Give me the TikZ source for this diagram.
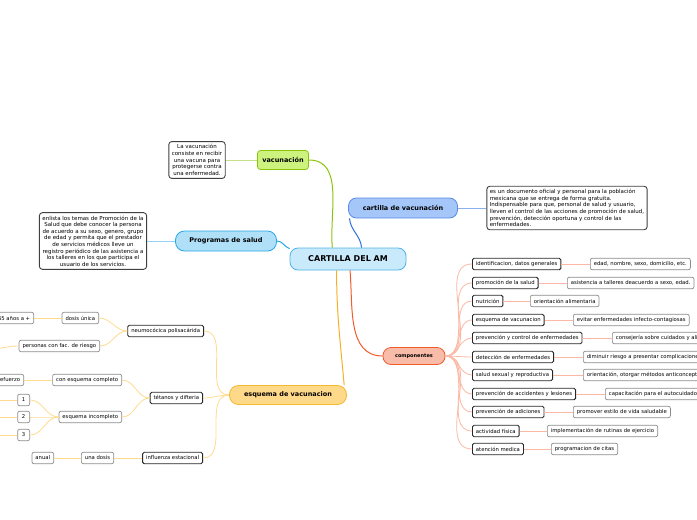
\documentclass[tikz,border=0pt]{standalone}
\usepackage{fontspec}
\setmainfont{DejaVu Sans}
\usetikzlibrary{positioning}

\definecolor{rootfill}{HTML}{C9EAFB}
\definecolor{rootline}{HTML}{4FB3E8}
\definecolor{vacfill}{HTML}{CDF27E}
\definecolor{vacline}{HTML}{8BC40B}
\definecolor{cvfill}{HTML}{A4C6F8}
\definecolor{cvline}{HTML}{2E6FE0}
\definecolor{progfill}{HTML}{B0E0F8}
\definecolor{progline}{HTML}{2AA8E6}
\definecolor{compfill}{HTML}{F9BCA9}
\definecolor{compline}{HTML}{F15A2B}
\definecolor{compsub}{HTML}{FBB9A5}
\definecolor{esqfill}{HTML}{FFD98A}
\definecolor{esqline}{HTML}{F5B82E}
\definecolor{esqsub}{HTML}{FFDB8E}

\tikzset{
  topic/.style = {draw, line width=0.8pt, font=\fontsize{6.5}{8}\selectfont\bfseries, inner sep=0pt},
  note/.style = {draw=black!75, rounded corners=3pt, line width=0.9pt, fill=white, font=\fontsize{5.5}{6.6}\selectfont, inner sep=3pt},
  item/.style = {draw=black!85, rounded corners=1.5pt, line width=0.9pt, fill=white, font=\fontsize{5.3}{6}\selectfont, minimum height=11.5pt, inner xsep=3.5pt, inner ysep=0pt},
  leaf/.style = {draw=black!45, rounded corners=2pt, line width=0.7pt, fill=white, font=\fontsize{5.3}{6}\selectfont, minimum height=11.5pt, inner xsep=3.5pt, inner ysep=0pt},
  csub/.style = {draw=compsub, line width=0.8pt},
  esub/.style = {draw=esqsub, line width=0.8pt}
}

\begin{document}
\begin{tikzpicture}[x=1pt, y=-1pt]
\useasboundingbox (0,0) rectangle (697,520);

% main topics
\node[topic, fill=rootfill, draw=rootline, rounded corners=8pt, minimum width=116pt, minimum height=22pt, font=\fontsize{8}{9}\selectfont\bfseries] (root) at (348,259) {CARTILLA DEL AM};
\node[topic, fill=vacfill, draw=vacline, rounded corners=3pt, minimum width=51pt, minimum height=19pt] (vac) at (283,160) {vacunación};
\node[topic, fill=cvfill, draw=cvline!80, rounded corners=8pt, minimum width=109pt, minimum height=20pt] (cv) at (403,208) {cartilla de vacunación};
\node[topic, fill=progfill, draw=progline, rounded corners=9pt, minimum width=101pt, minimum height=20pt] (prog) at (226,241) {Programas de salud};
\node[topic, fill=compfill, draw=compline, rounded corners=8pt, minimum width=62pt, minimum height=17pt, font=\fontsize{5}{6}\selectfont\bfseries] (comp) at (414,356) {componentes};
\node[topic, fill=esqfill, draw=esqline, rounded corners=9pt, minimum width=117pt, minimum height=19pt] (esq) at (288,395) {esquema de vacunacion};

% notes
\node[note, align=center] (vacnote) at (197,160) {La vacunación\\consiste en recibir\\una vacuna para\\protegerse contra\\una enfermedad.};
\node[note, align=left] (cvnote) at (567,208) {es un documento oficial y personal para la población\\mexicana que se entrega de forma gratuita.\\Indispensable para que, personal de salud y usuario,\\lleven el control de las acciones de promoción de salud,\\prevención, detección oportuna y control de las\\enfermedades.};
\node[note, align=center] (prognote) at (93,241) {enlista los temas de Promoción de la\\Salud que debe conocer la persona\\de acuerdo a su sexo, genero, grupo\\de edad y permita que el prestador\\de servicios médicos lleve un\\registro periódico de las asistencia a\\los talleres en los que participa el\\usuario de los servicios.};

% componentes
\node[item, anchor=west] (c1) at (472,264) {identificacion, datos generales};
\node[item, anchor=west] (c2) at (472,283) {promoción de la salud};
\node[item, anchor=west] (c3) at (472,301) {nutrición};
\node[item, anchor=west] (c4) at (472,320) {esquema de vacunacion};
\node[item, anchor=west] (c5) at (472,338) {prevención y control de enfermedades};
\node[item, anchor=west] (c6) at (472,357) {detección de enfermedades};
\node[item, anchor=west] (c7) at (472,375) {salud sexual y reproductiva};
\node[item, anchor=west] (c8) at (472,394) {prevención de accidentes y lesiones};
\node[item, anchor=west] (c9) at (472,412) {prevención de adiciones};
\node[item, anchor=west] (c10) at (472,431) {actividad física};
\node[item, anchor=west] (c11) at (472,449) {atención medica};

\node[leaf, anchor=west] (l1) at (590,264) {edad, nombre, sexo, domicilio, etc.};
\node[leaf, anchor=west] (l2) at (567,283) {asistencia a talleres deacuerdo a sexo, edad.};
\node[leaf, anchor=west] (l3) at (530,301) {orientación alimentaria};
\node[leaf, anchor=west] (l4) at (573,320) {evitar enfermedades infecto-contagiosas};
\node[leaf, anchor=west] (l5) at (612,338) {consejería sobre cuidados y alimentación};
\node[leaf, anchor=west] (l6) at (583,357) {diminuir riesgo a presentar complicaciones};
\node[leaf, anchor=west] (l7) at (583,375) {orientación, otorgar métodos anticonceptivos};
\node[leaf, anchor=west] (l8) at (605,394) {capacitación para el autocuidado};
\node[leaf, anchor=west] (l9) at (573,412) {promover estilo de vida saludable};
\node[leaf, anchor=west] (l10) at (547,431) {implementación de rutinas de ejercicio};
\node[leaf, anchor=west] (l11) at (551,449) {programacion de citas};

% esquema de vacunacion
\node[item, anchor=east] (neumo) at (204,331) {neumocócica polisacárida};
\node[item, anchor=east] (tet) at (203,398) {tétanos y difteria};
\node[item, anchor=east] (flu) at (203,458) {influenza estacional};

\node[leaf, anchor=east] (unica) at (99,318) {dosis única};
\node[leaf, anchor=east] (edad) at (34,318) {65 años a +};
\node[leaf, anchor=east] (riesgo) at (100,346) {personas con fac. de riesgo};
\coordinate (riesgoout) at (-10,349);

\node[leaf, anchor=east] (completo) at (122,380) {con esquema completo};
\node[leaf, anchor=east] (refuerzo) at (24,380) {refuerzo};
\node[leaf, anchor=east] (incompleto) at (122,417) {esquema incompleto};
\node[leaf, anchor=east, inner xsep=0pt, minimum width=12pt] (n1) at (30,400) {1};
\node[leaf, anchor=east, inner xsep=0pt, minimum width=12pt] (n2) at (30,417) {2};
\node[leaf, anchor=east, inner xsep=0pt, minimum width=12pt] (n3) at (30,435) {3};
\coordinate (n1out) at (-10,400);
\coordinate (n2out) at (-10,417);
\coordinate (n3out) at (-10,435);

\node[leaf, anchor=east] (unadosis) at (114,458) {una dosis};
\node[leaf, anchor=east] (anual) at (54,458) {anual};

% main branches
\path[draw=vacline, line width=1pt] (vac.east) to[out=0, in=95] (root.144);
\path[draw=cvline, line width=1pt] (cv.191) to[out=-85, in=95] (root.40);
\path[draw=progline, line width=1pt] (prog.east) to[out=0, in=160] (root.170);
\path[draw=compline, line width=1pt] (root.-80) to[out=-85, in=180] (comp.west);
\path[draw=esqline!85!orange, line width=1pt] (root.-135) to[out=-90, in=95] (esq.10);

\path[draw=vacline!50, line width=0.8pt] (vac.west) -- (vacnote.east);
\path[draw=cvline!55, line width=0.8pt] (cv.east) -- (cvnote.west);
\path[draw=progline!50, line width=0.8pt] (prog.west) -- (prognote.east);

\foreach \i in {1,...,11} {
  \path[csub] (comp.east) to[out=0, in=180] (c\i.west);
  \path[csub] (c\i.east) -- (l\i.west);
}

\foreach \n in {neumo,tet,flu}
  \path[esub] (esq.west) to[out=180, in=0] (\n.east);
\path[esub] (neumo.west) to[out=180, in=0] (unica.east);
\path[esub] (neumo.west) to[out=180, in=0] (riesgo.east);
\path[esub] (unica.west) -- (edad.east);
\path[esub] (riesgo.west) to[out=180, in=0] (riesgoout);
\path[esub] (tet.west) to[out=180, in=0] (completo.east);
\path[esub] (tet.west) to[out=180, in=0] (incompleto.east);
\path[esub] (completo.west) -- (refuerzo.east);
\foreach \k in {1,2,3} {
  \path[esub] (incompleto.west) to[out=180, in=0] (n\k.east);
  \path[esub] (n\k.west) -- (n\k out);
}
\path[esub] (flu.west) -- (unadosis.east);
\path[esub] (unadosis.west) -- (anual.east);
\end{tikzpicture}
\end{document}
